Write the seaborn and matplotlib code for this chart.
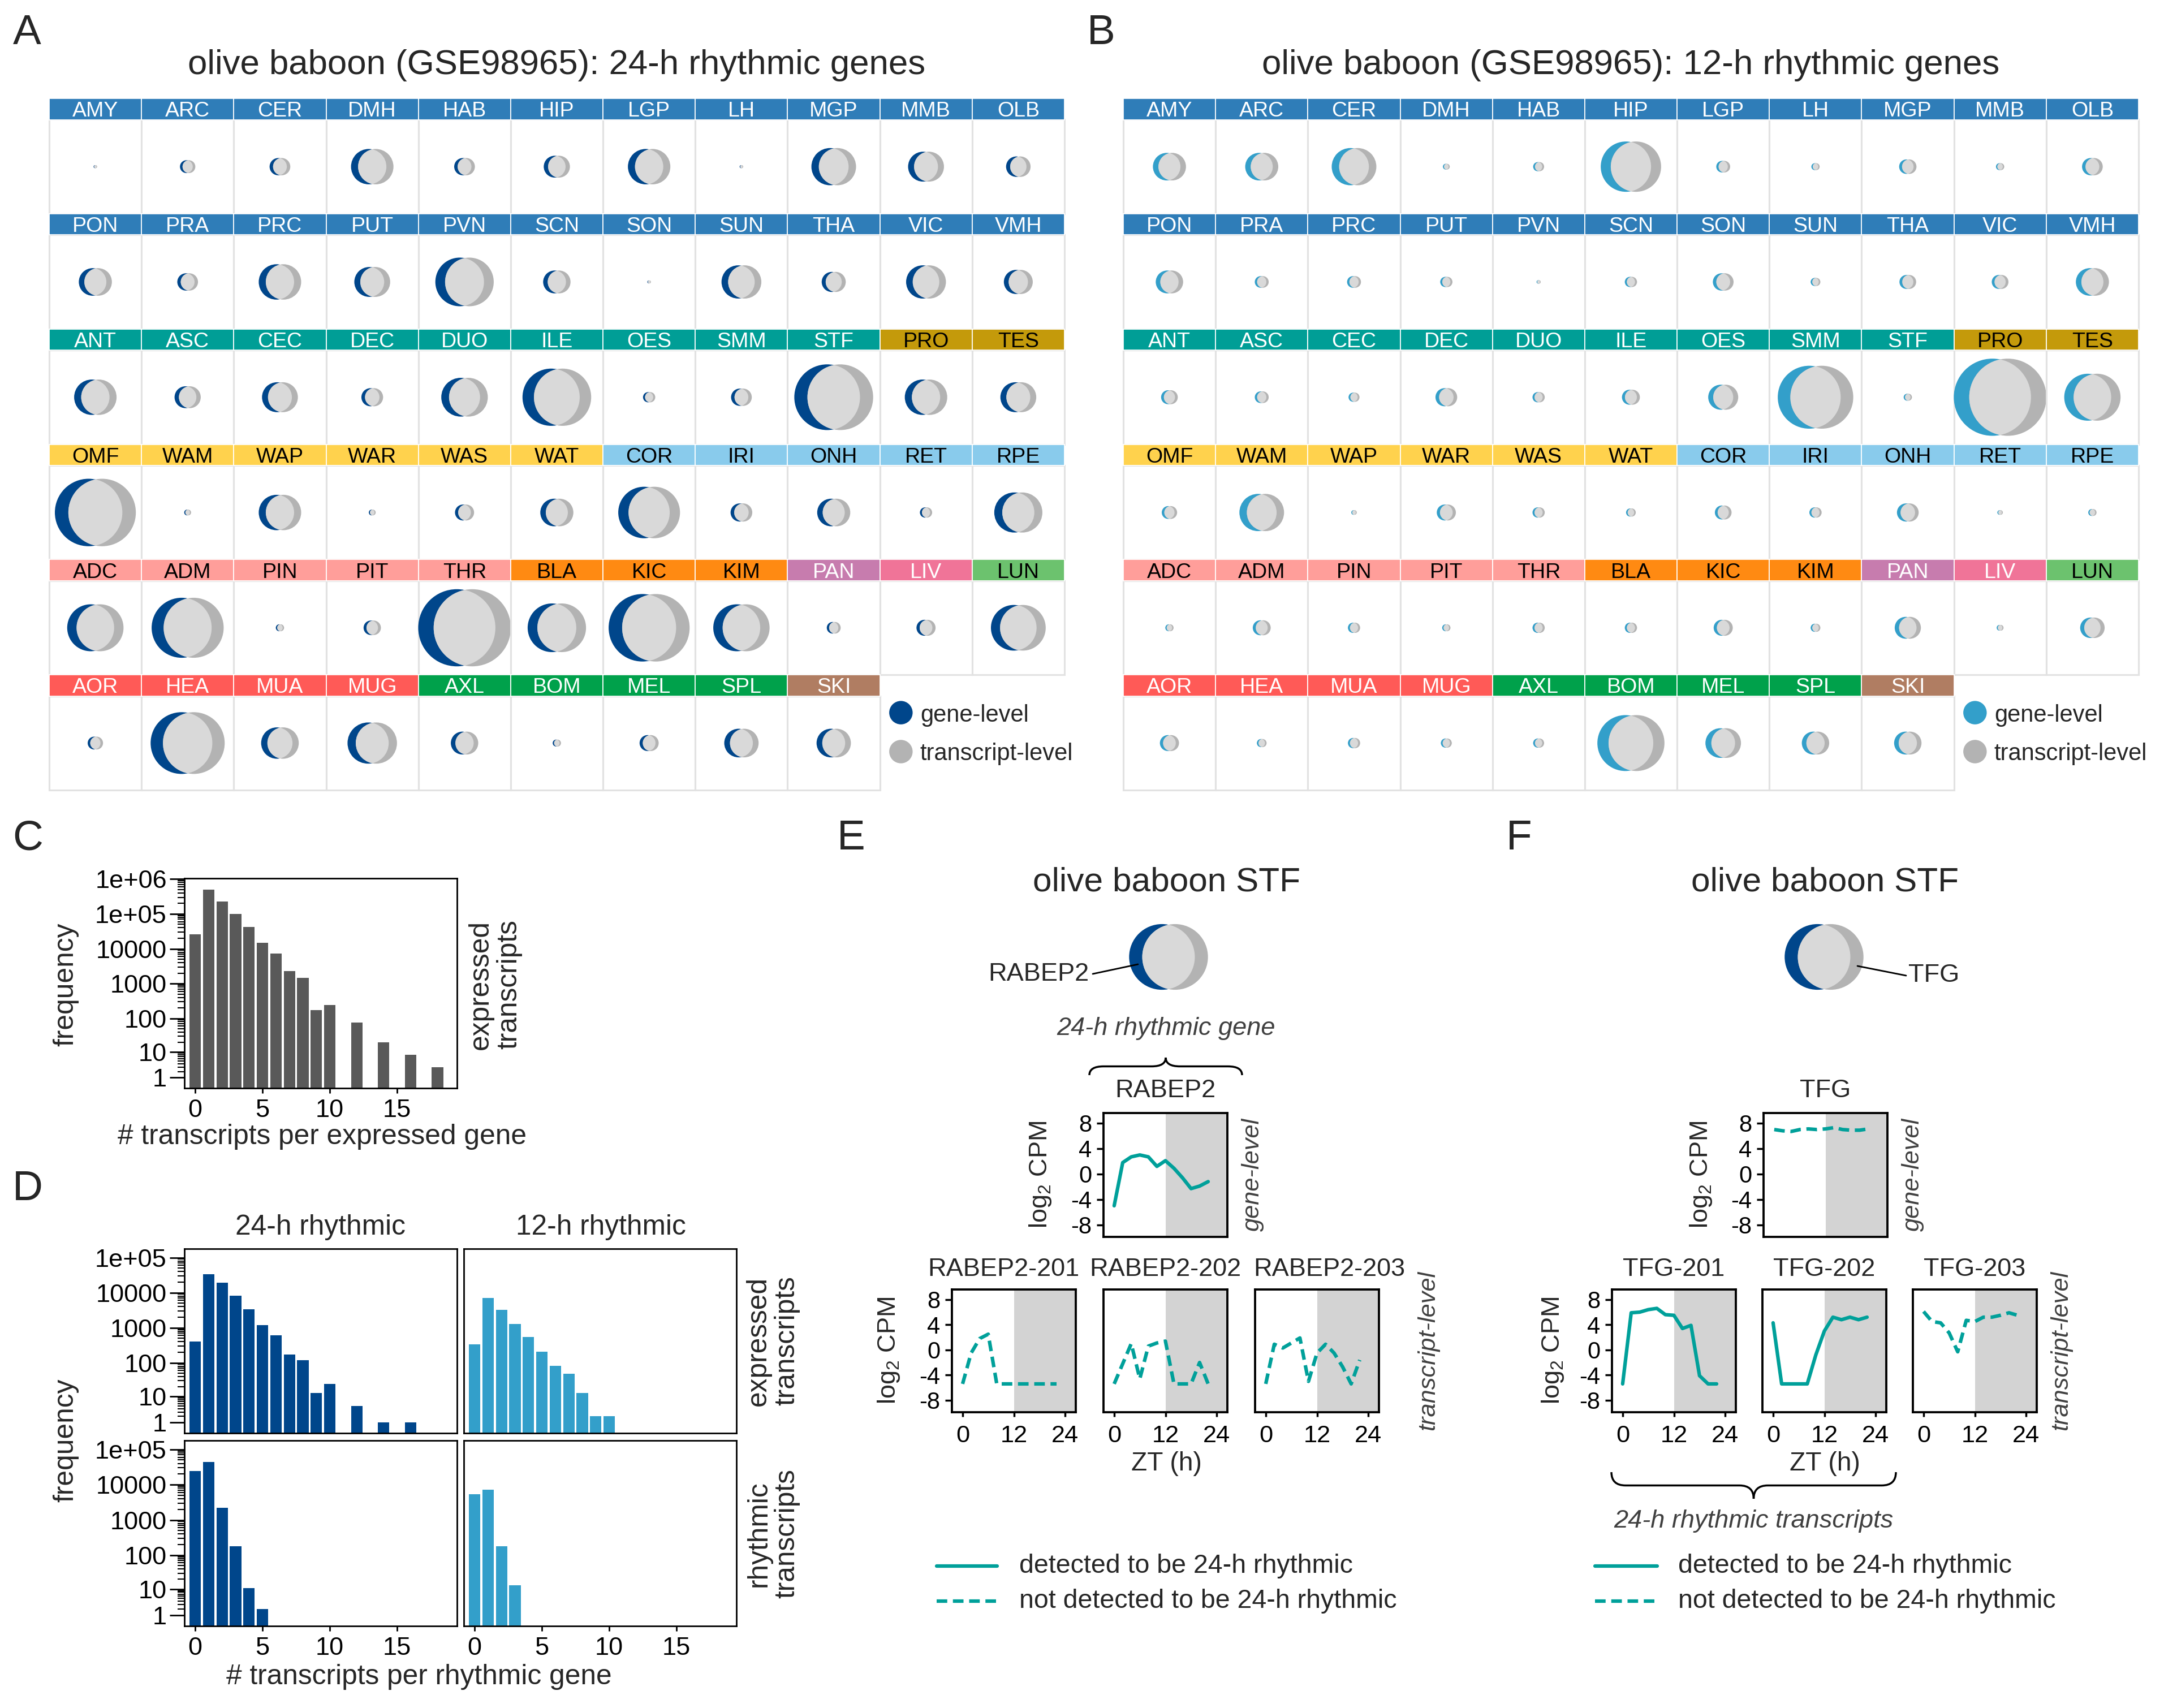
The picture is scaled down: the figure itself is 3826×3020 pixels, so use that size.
import numpy as np
import pandas as pd
import matplotlib
matplotlib.use("Agg")
import matplotlib.pyplot as plt
import seaborn as sns
from matplotlib.patches import Circle, Rectangle, PathPatch
from matplotlib.path import Path
from matplotlib.ticker import FixedLocator

# ----------------------------
# Data
# ----------------------------
tissues = ["AMY", "ARC", "CER", "DMH", "HAB", "HIP", "LGP", "LH", "MGP", "MMB", "OLB",
           "PON", "PRA", "PRC", "PUT", "PVN", "SCN", "SON", "SUN", "THA", "VIC", "VMH",
           "ANT", "ASC", "CEC", "DEC", "DUO", "ILE", "OES", "SMM", "STF", "PRO", "TES",
           "OMF", "WAM", "WAP", "WAR", "WAS", "WAT", "COR", "IRI", "ONH", "RET", "RPE",
           "ADC", "ADM", "PIN", "PIT", "THR", "BLA", "KIC", "KIM", "PAN", "LIV", "LUN",
           "AOR", "HEA", "MUA", "MUG", "AXL", "BOM", "MEL", "SPL", "SKI"]
tissue_group = (["brain"] * 22 + ["gi"] * 9 + ["repro"] * 2 + ["fat"] * 6 + ["eye"] * 5
                + ["endo"] * 5 + ["kidney"] * 3 + ["pancreas", "liver", "lung"]
                + ["heart"] * 4 + ["immune"] * 4 + ["skin"])

# approximate number of rhythmic genes (circle area)
n_rhythmic_24h = [3, 55, 100, 420, 100, 160, 420, 3, 465, 300, 140,
                  255, 100, 420, 300, 795, 175, 3, 370, 135, 370, 195,
                  420, 160, 300, 110, 505, 1100, 35, 100, 1450, 420, 300,
                  1530, 11, 420, 11, 85, 255, 890, 110, 255, 35, 540,
                  740, 1210, 16, 70, 2000, 795, 1530, 740, 45, 85, 700,
                  55, 1280, 330, 570, 175, 16, 85, 275, 275]
n_rhythmic_12h = [255, 255, 465, 11, 28, 850, 45, 16, 70, 16, 100,
                  175, 45, 45, 35, 4, 35, 100, 22, 65, 65, 255,
                  65, 45, 28, 110, 35, 75, 210, 1330, 16, 2000, 740,
                  55, 465, 7, 85, 35, 22, 65, 35, 110, 7, 16,
                  16, 75, 35, 16, 35, 35, 85, 22, 160, 11, 140,
                  85, 22, 35, 28, 28, 1050, 295, 175, 175]

group_fill = {"brain": "#2F7DB8", "gi": "#009E96", "repro": "#C49A0B", "fat": "#FFD24D",
              "eye": "#89CBEC", "endo": "#FF9E9A", "kidney": "#FF8A12", "pancreas": "#C77CAE",
              "liver": "#F07498", "lung": "#6CC26E", "heart": "#FF5A57", "immune": "#00A14B",
              "skin": "#B07D62"}
group_text = {"brain": "white", "gi": "white", "repro": "black", "fat": "black",
              "eye": "black", "endo": "black", "kidney": "black", "pancreas": "white",
              "liver": "white", "lung": "black", "heart": "white", "immune": "white",
              "skin": "white"}

# panel C / D histograms
n_transcripts = list(range(19))
freq_expressed = [26000, 500000, 230000, 98000, 42000, 15000, 7300, 2300, 1450, 170, 240,
                  0, 75, 0, 20, 0, 8, 0, 3]
freq_24h_expressed = [410, 34000, 19000, 8200, 3400, 1200, 600, 170, 120, 13, 24,
                      0, 5, 0, 1, 0, 1, 0, 0]
freq_12h_expressed = [340, 7000, 3200, 1300, 540, 210, 82, 49, 13, 2, 2,
                      0, 0, 0, 0, 0, 0, 0, 0]
freq_24h_rhythmic = [24000, 44000, 2200, 180, 11, 2, 0, 0, 0, 0, 0,
                     0, 0, 0, 0, 0, 0, 0, 0]
freq_12h_rhythmic = [5300, 7200, 180, 13, 0, 0, 0, 0, 0, 0, 0,
                     0, 0, 0, 0, 0, 0, 0, 0]

# panel E / F time courses (log2 CPM)
zt = [0, 2, 4, 6, 8, 10, 12, 14, 16, 18, 20, 22]
rabep2_gene = [-5.0, 1.8, 2.7, 3.0, 2.7, 1.2, 2.1, 0.9, -0.6, -2.3, -1.9, -1.2]
rabep2_201 = [-5.4, -0.5, 1.8, 2.5, -5.4, -5.4, -5.4, -5.4, -5.4, -5.4, -5.4, -5.4]
rabep2_202 = [-5.4, -2.2, 1.0, -4.6, 0.6, 1.1, 1.4, -5.4, -5.4, -5.4, -2.0, -5.4]
rabep2_203 = [-5.4, 0.9, 0.3, 1.1, 1.9, -5.0, -0.5, 0.9, -0.5, -2.7, -5.4, -1.6]
tfg_gene = [7.0, 6.8, 6.7, 7.0, 7.1, 7.0, 7.1, 7.3, 7.0, 6.9, 6.9, 7.1]
tfg_201 = [-5.4, 5.9, 6.0, 6.4, 6.6, 5.6, 5.5, 3.4, 3.9, -4.1, -5.4, -5.4]
tfg_202 = [4.3, -5.4, -5.4, -5.4, -5.4, -0.8, 3.0, 5.2, 4.8, 5.2, 4.8, 5.2]
tfg_203 = [6.1, 4.5, 4.3, 2.7, -0.3, 4.7, 4.5, 5.2, 5.2, 5.5, 5.9, 5.5]
rabep2_rhythmic = [True, False, False, False]   # gene, 201, 202, 203
tfg_rhythmic = [False, True, True, False]

# ----------------------------
# Style
# ----------------------------
sns.set_theme(style="ticks")
plt.rcParams["font.family"] = ["Liberation Sans", "DejaVu Sans"]
plt.rcParams["mathtext.fontset"] = "custom"
plt.rcParams["mathtext.rm"] = "Liberation Sans"
plt.rcParams["mathtext.it"] = "Liberation Sans:italic"
plt.rcParams["axes.unicode_minus"] = False

BLUE24 = "#00468B"
BLUE12 = "#339FCA"
TX_GRAY = "#B3B3B3"
OVERLAP = "#D9D9D9"
GRID = "#E2E2E2"
TEAL = "#00A09A"
SHADE = "#D3D3D3"
DARKTXT = "#404040"

W, H, DPI = 3826, 3020, 250
fig = plt.figure(figsize=(W / DPI, H / DPI), dpi=DPI)


def px_axes(x0, y0, x1, y1):
    return fig.add_axes([x0 / W, 1 - y1 / H, (x1 - x0) / W, (y1 - y0) / H])


def ftext(x, y, s, **kw):
    kw.setdefault("ha", "center")
    kw.setdefault("va", "center")
    fig.text(x / W, 1 - y / H, s, **kw)


def venn(ax, cx, cy, r, color):
    d = 0.4 * r
    g = Circle((cx - d / 2, cy), r, fc=color, ec="none", lw=0, clip_on=False)
    t = Circle((cx + d / 2, cy), r, fc=TX_GRAY, ec="none", lw=0, clip_on=False)
    lens = Circle((cx - d / 2, cy), r, fc=OVERLAP, ec="none", lw=0)
    for p in (g, t, lens):
        ax.add_patch(p)
    lens.set_clip_path(t)


# overlay axes in pixel units for callouts, braces, venn of E/F
ax_ov = fig.add_axes([0, 0, 1, 1])
ax_ov.set_xlim(0, W)
ax_ov.set_ylim(H, 0)
ax_ov.axis("off")

# ----------------------------
# Panels A and B: tissue grids
# ----------------------------
COL_PX = 1795 / 11
ROW_H = (1223 / 6) / COL_PX
STRIP = 37.5 / COL_PX
R_MAX = 0.418
N_MAX = 2000


def grid_panel(x0, counts, color):
    ax = px_axes(x0, 174, x0 + 1795, 1397)
    ax.set_xlim(0, 11)
    ax.set_ylim(0, 6 * ROW_H)
    ax.axis("off")
    for k, (name, grp, n) in enumerate(zip(tissues, tissue_group, counts)):
        row, col = divmod(k, 11)
        top = (6 - row) * ROW_H
        ax.add_patch(Rectangle((col, top - ROW_H), 1, ROW_H - STRIP, fc="white",
                               ec=GRID, lw=0.9, clip_on=False))
        ax.add_patch(Rectangle((col, top - STRIP), 1, STRIP, fc=group_fill[grp],
                               ec="white", lw=0.5, clip_on=False))
        ax.text(col + 0.5, top - STRIP / 2, name, ha="center", va="center_baseline",
                fontsize=10.8, color=group_text[grp])
        r = R_MAX * np.sqrt(n / N_MAX)
        venn(ax, col + 0.5, top - STRIP - (ROW_H - STRIP) / 2, r, color)
    ax.add_patch(Circle((9.228, 0.839), 0.127, fc=color, ec="none"))
    ax.add_patch(Circle((9.228, 0.417), 0.127, fc=TX_GRAY, ec="none"))
    ax.text(9.436, 0.839, "gene-level", va="center_baseline", fontsize=12)
    ax.text(9.436, 0.417, "transcript-level", va="center_baseline", fontsize=12)
    return ax


grid_panel(87, n_rhythmic_24h, BLUE24)
grid_panel(1986, n_rhythmic_12h, BLUE12)
ftext(984, 116, "olive baboon (GSE98965): 24-h rhythmic genes", fontsize=17.8)
ftext(2883, 116, "olive baboon (GSE98965): 12-h rhythmic genes", fontsize=17.8)

# ----------------------------
# Panels C and D: histograms
# ----------------------------


def fwd(v):
    return np.log10(np.clip(v, 0, None) + 1)


def inv(u):
    return 10 ** np.asarray(u) - 1


def hist_axes(ax, freq, color, top, show_y=True, show_x=True):
    df = pd.DataFrame({"n": n_transcripts, "freq": freq})
    sns.barplot(data=df, x="n", y="freq", native_scale=True, width=0.85, color=color,
                saturation=1, errorbar=None, linewidth=0, ax=ax)
    ax.set_yscale("function", functions=(fwd, inv))
    ax.set_ylim(0, top)
    ax.set_xlim(-0.8, 19.45)
    ax.set_xlabel("")
    ax.set_ylabel("")
    major = [v for v in [1, 10, 100, 1000, 10000, 1e5, 1e6] if v <= top]
    labels = ["1", "10", "100", "1000", "10000", "1e+05", "1e+06"][:len(major)]
    minor = [k * 10 ** e for e in range(0, 6) for k in range(2, 10) if k * 10 ** e <= top]
    ax.yaxis.set_major_locator(FixedLocator(major))
    ax.set_yticklabels(labels)
    ax.yaxis.set_minor_locator(FixedLocator(minor))
    ax.set_xticks([0, 5, 10, 15])
    ax.tick_params(axis="y", which="major", length=7.5, width=0.8, labelsize=13, pad=1.5,
                   colors="black")
    ax.tick_params(axis="y", which="minor", length=3.5, width=0.6, colors="black")
    ax.tick_params(axis="x", length=2.6, width=0.8, labelsize=13, pad=3, colors="black")
    if not show_y:
        ax.tick_params(axis="y", which="both", left=False, labelleft=False)
    if not show_x:
        ax.tick_params(axis="x", bottom=False, labelbottom=False)
    for sp in ax.spines.values():
        sp.set_visible(True)
        sp.set_color("black")
        sp.set_linewidth(0.8)


ax_c = px_axes(326, 1553, 808, 1924)
hist_axes(ax_c, freq_expressed, "#595959", 1.05e6)
ftext(116, 1741, "frequency", rotation=90, fontsize=14.3)
ftext(570, 2010, "# transcripts per expressed gene", fontsize=14.3)
ftext(875, 1741, "expressed\ntranscripts", rotation=90, fontsize=14.3, linespacing=1.1)

D_TOP = 1.78e5
ax_d1 = px_axes(326, 2208, 808, 2534)
hist_axes(ax_d1, freq_24h_expressed, BLUE24, D_TOP, show_x=False)
ax_d2 = px_axes(820, 2208, 1302, 2534)
hist_axes(ax_d2, freq_12h_expressed, BLUE12, D_TOP, show_y=False, show_x=False)
ax_d3 = px_axes(326, 2547, 808, 2875)
hist_axes(ax_d3, freq_24h_rhythmic, BLUE24, D_TOP)
ax_d4 = px_axes(820, 2547, 1302, 2875)
hist_axes(ax_d4, freq_12h_rhythmic, BLUE12, D_TOP, show_y=False)
ftext(567, 2170, "24-h rhythmic", fontsize=14.3)
ftext(1062, 2170, "12-h rhythmic", fontsize=14.3)
ftext(116, 2547, "frequency", rotation=90, fontsize=14.3)
ftext(741, 2965, "# transcripts per rhythmic gene", fontsize=14.3)
ftext(1366, 2371, "expressed\ntranscripts", rotation=90, fontsize=14.3, linespacing=1.1)
ftext(1366, 2712, "rhythmic\ntranscripts", rotation=90, fontsize=14.3, linespacing=1.1)

# ----------------------------
# Panels E and F: time courses
# ----------------------------
DASH = (0, (3, 1.6))


def cpm_axes(ax, values, rhythmic, show_y=True, show_x=True):
    ax.axvspan(12, 30, color=SHADE, lw=0, zorder=0)
    sns.lineplot(x=zt, y=values, ax=ax, color=TEAL, lw=1.8,
                 linestyle="-" if rhythmic else DASH)
    ax.set_xlim(-2.5, 26.5)
    ax.set_ylim(-9.9, 9.6)
    ax.set_yticks([-8, -4, 0, 4, 8])
    ax.set_xticks([0, 12, 24])
    ax.tick_params(axis="y", length=3.5, width=1.0, labelsize=12, pad=2.5, colors="black")
    ax.tick_params(axis="x", length=2.4, width=1.0, labelsize=12.5, pad=4, colors="black")
    if not show_y:
        ax.tick_params(axis="y", left=False, labelleft=False)
    if not show_x:
        ax.tick_params(axis="x", bottom=False, labelbottom=False)
    for sp in ax.spines.values():
        sp.set_visible(True)
        sp.set_color("black")
        sp.set_linewidth(1.1)


def stf_panel(xc, gene_name, gene_values, tx_values, rhythmic, gene_x0, tx_x0s,
              title_shift, ylab_gene_x, ylab_tx_x, gene_lab_x, tx_lab_x):
    ax_g = px_axes(gene_x0, 1968, gene_x0 + 219, 2187)
    cpm_axes(ax_g, gene_values, rhythmic[0], show_x=False)
    ftext(gene_x0 + 109.5, 1929, gene_name, fontsize=13)
    ftext(ylab_gene_x, 2077, r"log$_2$ CPM", rotation=90, fontsize=13)
    ftext(gene_lab_x, 2077, "gene-level", rotation=90, fontsize=12.5, style="italic",
          color=DARKTXT)
    for i, (x0, vals, dx) in enumerate(zip(tx_x0s, tx_values, title_shift)):
        ax_t = px_axes(x0, 2280, x0 + 219, 2497)
        cpm_axes(ax_t, vals, rhythmic[i + 1], show_y=(i == 0))
        ftext(x0 + 109.5 + dx, 2245, f"{gene_name}-20{i + 1}", fontsize=13)
    ftext(ylab_tx_x, 2388, r"log$_2$ CPM", rotation=90, fontsize=13)
    ftext(tx_lab_x, 2388, "transcript-level", rotation=90, fontsize=12.5, style="italic",
          color=DARKTXT)
    ftext(xc, 2588, "ZT (h)", fontsize=13.3)
    ftext(xc, 1560, "olive baboon STF", fontsize=17.4)


stf_panel(2062, "RABEP2", rabep2_gene, [rabep2_201, rabep2_202, rabep2_203], rabep2_rhythmic,
          1951, [1683, 1951, 2219], [-18, 0, 22], 1840, 1572, 2215, 2525)
stf_panel(3226, "TFG", tfg_gene, [tfg_201, tfg_202, tfg_203], tfg_rhythmic,
          3118, [2850, 3116, 3382], [0, 0, 0], 3007, 2745, 3382, 3644)

# STF venn callouts (same scale as panel A)
stf_r = R_MAX * COL_PX * np.sqrt(n_rhythmic_24h[tissues.index("STF")] / N_MAX)
venn(ax_ov, 2066, 1692, stf_r, BLUE24)
venn(ax_ov, 3225, 1692, stf_r, BLUE24)
ax_ov.plot([1932, 2012], [1722, 1705], color="black", lw=0.8)
ftext(1836, 1722, "RABEP2", fontsize=13)
ax_ov.plot([3284, 3370], [1708, 1725], color="black", lw=0.8)
ftext(3374, 1725, "TFG", fontsize=13, ha="left")


def brace(x0, x1, y_tip, y_cusp, s=25):
    ym = (y_tip + y_cusp) / 2
    xm = (x0 + x1) / 2
    verts = [(x0, y_tip), (x0, ym), (x0 + s, ym), (xm - s, ym), (xm, ym), (xm, y_cusp),
             (xm, ym), (xm + s, ym), (x1 - s, ym), (x1, ym), (x1, y_tip)]
    codes = [Path.MOVETO, Path.CURVE3, Path.CURVE3, Path.LINETO, Path.CURVE3, Path.CURVE3,
             Path.CURVE3, Path.CURVE3, Path.LINETO, Path.CURVE3, Path.CURVE3]
    ax_ov.add_patch(PathPatch(Path(verts, codes), fc="none", ec="black", lw=1.0))


brace(1926, 2196, 1901, 1870)
ftext(2062, 1818, "24-h rhythmic gene", fontsize=13, style="italic", color=DARKTXT)
brace(2849, 3352, 2603, 2650)
ftext(3100, 2689, "24-h rhythmic transcripts", fontsize=13, style="italic", color=DARKTXT)

# E / F legends
for lx0, lx1, tx in [(1656, 1763, 1802), (2820, 2930, 2967)]:
    ax_ov.plot([lx0, lx1], [2769, 2769], color=TEAL, lw=1.8)
    ax_ov.plot([lx0, lx1], [2831, 2831], color=TEAL, lw=1.8, linestyle=DASH)
    ftext(tx, 2769, "detected to be 24-h rhythmic", fontsize=13.4, ha="left")
    ftext(tx, 2831, "not detected to be 24-h rhythmic", fontsize=13.4, ha="left")

# panel letters
for letter, x, y in [("A", 48, 58), ("B", 1947, 58), ("C", 49, 1483), ("D", 49, 2102),
                     ("E", 1505, 1483), ("F", 2686, 1483)]:
    ftext(x, y, letter, fontsize=21.5)

fig.savefig("out.png", dpi=DPI)
plt.close(fig)
print("saved out.png")
